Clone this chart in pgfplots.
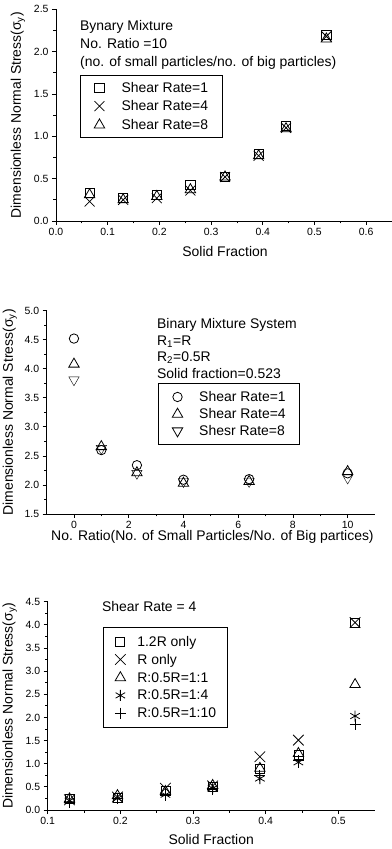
\documentclass[border=0pt]{standalone}
\usepackage{fontspec}
\setmainfont{Liberation Sans}
\usepackage{pgfplots}
\pgfplotsset{compat=1.18}
\pgfplotsset{
  panel/.style={
    scale only axis,
    anchor=south west,
    axis lines*=left,
    axis line style={line width=0.8bp},
    tick align=outside,
    major tick length=4bp, minor tick length=2.5bp,
    every tick/.style={black, line width=0.8bp},
    minor tick num=1,
    tick label style={font=\fontsize{10.5}{12}\selectfont},
    /pgf/number format/assume math mode=true,
    label style={font=\fontsize{14}{16}\selectfont},
    clip=false,
    legend image code/.code={\draw[##1] plot coordinates {(0bp,0bp)};},
    legend style={draw=black, line width=0.8bp, fill=white, anchor=north west,
      font=\fontsize{14}{16}\selectfont,
      nodes={inner sep=0pt, anchor=west, text height=10bp, text depth=1bp}},
  },
  mk/.style={only marks, mark options={solid, line width=0.8bp, black, fill=none}, black},
}
\begin{document}
\begin{tikzpicture}
\path[use as bounding box] (0bp,0bp) rectangle (392bp,849bp);

% ---------------- Panel 1 ----------------
\begin{axis}[panel, at={(56bp,628bp)}, width=336bp, height=211.7bp,
  xmin=0, xmax=0.65, ymin=0, ymax=2.5,
  xtick={0,0.1,...,0.6}, ytick={0,0.5,...,2.5},
  xticklabel style={/pgf/number format/.cd, fixed, fixed zerofill, precision=1},
  yticklabel style={/pgf/number format/.cd, fixed, fixed zerofill, precision=1},
  xlabel={Solid Fraction},
  ylabel={Dimensionless Normal Stress(σ\textsubscript{y})},
  xlabel style={at={(axis description cs:0.503,-0.146)}, anchor=center},
  ylabel style={at={(axis description cs:-0.113,0.5)}, anchor=center},
  legend style={at={(axis description cs:0.071,0.69)}, inner xsep=14bp, inner ysep=7bp, row sep=7.3bp, column sep=17bp},
]
\addplot[mk, mark=square, mark size=4.6bp] coordinates {
(0.065,0.33) (0.13,0.27) (0.195,0.31) (0.26,0.43) (0.327,0.52) (0.392,0.79) (0.445,1.12) (0.523,2.20)};
\addplot[mk, mark=x, mark size=7bp] coordinates {
(0.065,0.23) (0.13,0.25) (0.195,0.27) (0.26,0.36) (0.327,0.52) (0.392,0.77) (0.445,1.10) (0.523,2.18)};
\addplot[mk, mark=triangle, mark size=6bp] coordinates {
(0.065,0.31) (0.13,0.25) (0.195,0.29) (0.26,0.37) (0.327,0.52) (0.392,0.77) (0.445,1.09) (0.523,2.15)};
\legend{Shear Rate=1, Shear Rate=4, Shear Rate=8}
\node[anchor=base west, align=left, inner sep=0pt, font=\fontsize{14}{18.3}\selectfont]
  at (axis description cs:0.0714,0.729)
  {Bynary Mixture\\No. Ratio =10\\(no. of small particles/no. of big particles)};
\end{axis}

% ---------------- Panel 2 ----------------
\begin{axis}[panel, at={(46.6bp,335bp)}, width=328.4bp, height=203.3bp,
  xmin=-1, xmax=11, ymin=1.5, ymax=5.0,
  xtick={0,2,...,10}, ytick={1.5,2.0,...,5.0},
  yticklabel style={/pgf/number format/.cd, fixed, fixed zerofill, precision=1},
  xlabel={No. Ratio(No. of Small Particles/No. of Big partices)},
  ylabel={Dimensionless Normal Stress(σ\textsubscript{y})},
  xlabel style={at={(axis description cs:0.505,-0.113)}, anchor=center},
  ylabel style={at={(axis description cs:-0.112,0.5)}, anchor=center},
  legend style={at={(axis description cs:0.339,0.644)}, inner xsep=14bp, inner ysep=8bp, row sep=5.7bp, column sep=16.5bp},
]
\addplot[mk, mark=o, mark size=4.7bp] coordinates {
(0,4.52) (1,2.60) (2.3,2.34) (4,2.09) (6.4,2.10) (10,2.20)};
\addplot[mk, mark=triangle, mark size=6bp] coordinates {
(0,4.08) (1,2.66) (2.3,2.21) (4,2.03) (6.4,2.06) (10,2.23)};
\addplot[mk, mark=triangle, mark size=6bp, mark options={rotate=180}] coordinates {
(0,3.81) (1,2.63) (2.3,2.20) (4,2.06) (6.4,2.06) (10,2.12)};
\legend{Shear Rate=1, Shear Rate=4, Shesr Rate=8}
\node[anchor=base west, align=left, inner sep=0pt, font=\fontsize{14}{16.7}\selectfont]
  at (axis description cs:0.336,0.6675)
  {Binary Mixture System\\R\textsubscript{1}=R\\R\textsubscript{2}=0.5R\\Solid fraction=0.523};
\end{axis}

% ---------------- Panel 3 ----------------
\begin{axis}[panel, at={(47.7bp,39bp)}, width=327bp, height=208.3bp,
  xmin=0.1, xmax=0.55, ymin=0, ymax=4.5,
  xtick={0.1,0.2,...,0.5}, ytick={0,0.5,...,4.5},
  xticklabel style={/pgf/number format/.cd, fixed, fixed zerofill, precision=1},
  yticklabel style={/pgf/number format/.cd, fixed, fixed zerofill, precision=1},
  xlabel={Solid Fraction},
  ylabel={Dimensionless Normal Stress(σ\textsubscript{y})},
  xlabel style={at={(axis description cs:0.50,-0.144)}, anchor=center},
  ylabel style={at={(axis description cs:-0.116,0.5)}, anchor=center},
  legend style={at={(axis description cs:0.169,0.879)}, inner xsep=11.5bp, inner ysep=9bp, row sep=6.7bp, column sep=11.5bp},
]
\addplot[mk, mark=square, mark size=4.5bp] coordinates {
(0.13,0.24) (0.196,0.27) (0.262,0.42) (0.327,0.50) (0.392,0.88) (0.445,1.20) (0.523,4.05)};
\addplot[mk, mark=x, mark size=7.5bp] coordinates {
(0.13,0.22) (0.196,0.28) (0.262,0.47) (0.327,0.52) (0.392,1.15) (0.445,1.51) (0.523,4.05)};
\addplot[mk, mark=triangle, mark size=6bp] coordinates {
(0.13,0.24) (0.196,0.31) (0.262,0.40) (0.327,0.53) (0.392,0.90) (0.445,1.22) (0.523,2.71)};
\addplot[mk, mark=asterisk, mark size=5.5bp] coordinates {
(0.13,0.20) (0.196,0.25) (0.262,0.33) (0.327,0.47) (0.392,0.68) (0.445,1.03) (0.523,2.03)};
\addplot[mk, mark=+, mark size=5.5bp] coordinates {
(0.13,0.17) (0.196,0.24) (0.262,0.32) (0.327,0.45) (0.392,0.75) (0.445,1.07) (0.523,1.84)};
\legend{1.2R only, R only, R:0.5R=1:1, R:0.5R=1:4, R:0.5R=1:10}
\node[anchor=base west, inner sep=0pt, font=\fontsize{14}{16}\selectfont]
  at (axis description cs:0.166,0.952) {Shear Rate = 4};
\end{axis}
\end{tikzpicture}
\end{document}
